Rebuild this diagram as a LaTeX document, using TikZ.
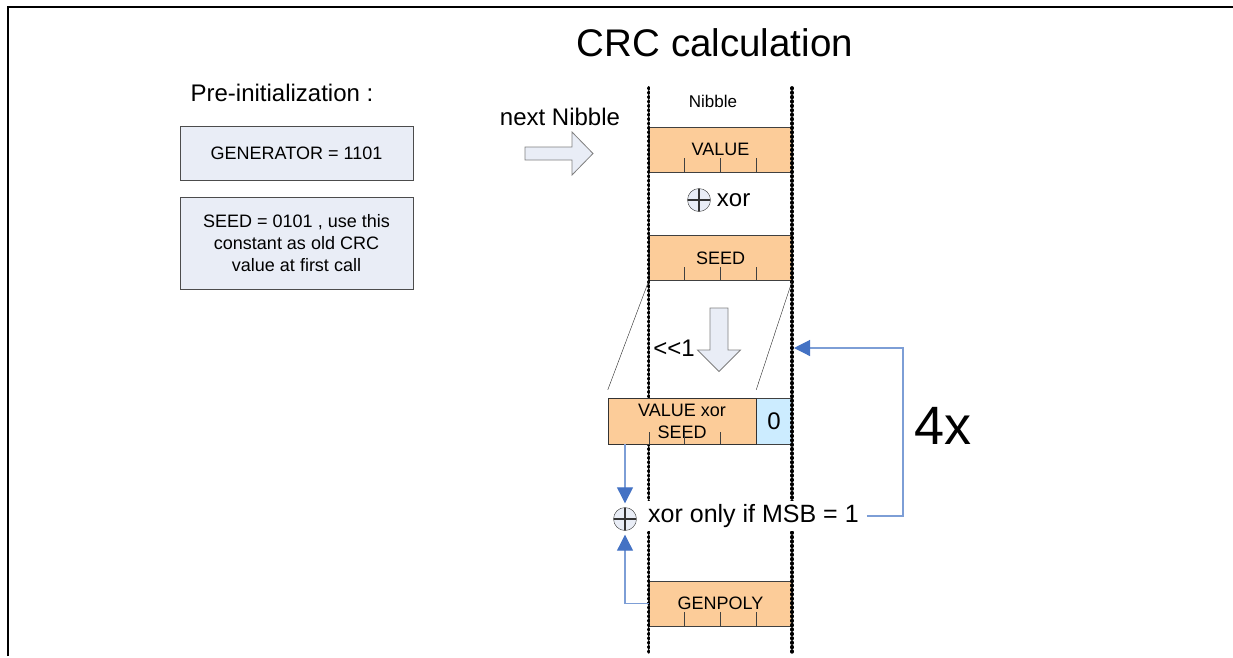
\documentclass[tikz,border=0pt]{standalone}
\usepackage{fontspec}
\setmainfont{Liberation Sans}
\usetikzlibrary{calc,positioning,arrows.meta}
\definecolor{nib}{RGB}{252,204,153}
\definecolor{zerobg}{RGB}{204,236,255}
\definecolor{pale}{RGB}{233,237,246}
\definecolor{fbtip}{RGB}{68,114,196}
\definecolor{fbline}{RGB}{125,158,214}
\begin{document}
\begin{tikzpicture}[x=1pt,y=-1pt,
  reg/.style={draw=black!75,fill=nib,minimum width=143,minimum height=45,inner sep=0,font=\fontsize{18}{22}\selectfont},
  pre/.style={draw=black!70,fill=pale,minimum width=233,inner sep=0,align=center,font=\fontsize{18}{22}\selectfont},
  big/.style={font=\fontsize{24}{28}\selectfont,inner sep=2},
  xo/.style={circle,draw=black!80,fill=pale,minimum size=23,inner sep=0,path picture={\draw[line width=1.2] (path picture bounding box.north) -- (path picture bounding box.south) (path picture bounding box.west) -- (path picture bounding box.east);}},
  blk/.style={draw=black!50,fill=pale,line width=0.8},
  dots/.style={line width=3.8,dash pattern=on 0.6pt off 3.8pt,line cap=round},
  back/.style={draw=fbline,line width=1.2,-{Triangle[length=16pt,width=16pt,color=fbtip]}}]
  \useasboundingbox (0,0) rectangle (1233,657);
  \draw[line width=2.5] (8,656) -- (8,7) -- (1233,7);
  \node[font=\fontsize{38.5}{46}\selectfont] (title) at (715,43) {CRC calculation};

  \node[big] (prelbl) at (282,93) {Pre-initialization :};
  \node[pre,minimum height=54] (gen0) at (296.5,153) {GENERATOR = 1101};
  \node[pre,minimum height=92] (seed0) at (296.5,243) {SEED = 0101 , use this\\constant as old CRC\\value at first call};

  \node[big] (next) at (560,117) {next Nibble};
  \draw[blk] (525,147) -- (572,147) -- (572,132) -- (593,153.5) -- (572,175) -- (572,160) -- (525,160) -- cycle;

  \node[font=\fontsize{17}{20}\selectfont] (nibble) at (713,101) {Nibble};
  \node[reg] (val) at (720.5,149.5) {VALUE};
  \node[reg] (seed) at (720.5,258) {SEED};
  \node[reg] (gen) at (720.5,603.5) {GENPOLY};
  \foreach \r in {val,seed,gen}
    \foreach \d in {35.75,71.5,107.25}
      \draw[black!75] (\r.south west) ++(\d,0) -- ++(0,-14);

  \node[xo] (op1) at (699,200) {};
  \node[big,right=4pt of op1] (xor1) {xor};

  \node[reg,fill=zerobg,minimum width=36,minimum height=46,font=\fontsize{24}{28}\selectfont] (zero) at (774,421) {0};
  \draw[dots] (648.5,88) -- (648.5,655);
  \draw[dots] (792,88) -- (792,655);

  \draw[blk] (710,308) -- (728,308) -- (728,350) -- (740.5,350) -- (719,371.5) -- (697.5,350) -- (710,350) -- cycle;
  \node[big] (shl) at (674,348) {<\kern0pt<1};

  \node[reg,draw=black!80,minimum width=148,minimum height=46,align=center] (vxs) at (682,421) {VALUE xor\\SEED};
  \foreach \d in {41,76.75,112.5}
    \draw[black!75] (vxs.south west) ++(\d,0) -- ++(0,-12);
  \draw[black!85] (seed.south west) -- ($(vxs.north west)+(0,-8)$);
  \draw[black!85] (seed.south east) -- ($(vxs.north east)+(0,-8)$);

  \node[xo] (op2) at (625,519) {};
  \node[big,font=\fontsize{25}{29}\selectfont,fill=white,anchor=west,inner sep=3] (cond) at (645,516) {xor only if MSB = 1};
  \coordinate (fbc) at (903,348);
  \coordinate (fbin) at (794,348);
  \draw[back,shorten <=5pt] (cond.east) -| (fbc) -- (fbin);
  \draw[back,shorten >=4pt] (vxs.south -| op2) -- (op2.north);
  \draw[back,shorten >=4pt] (gen.west) -| (op2.south);

  \node[font=\fontsize{54}{60}\selectfont] (rep) at (943,426) {4x};
\end{tikzpicture}
\end{document}
